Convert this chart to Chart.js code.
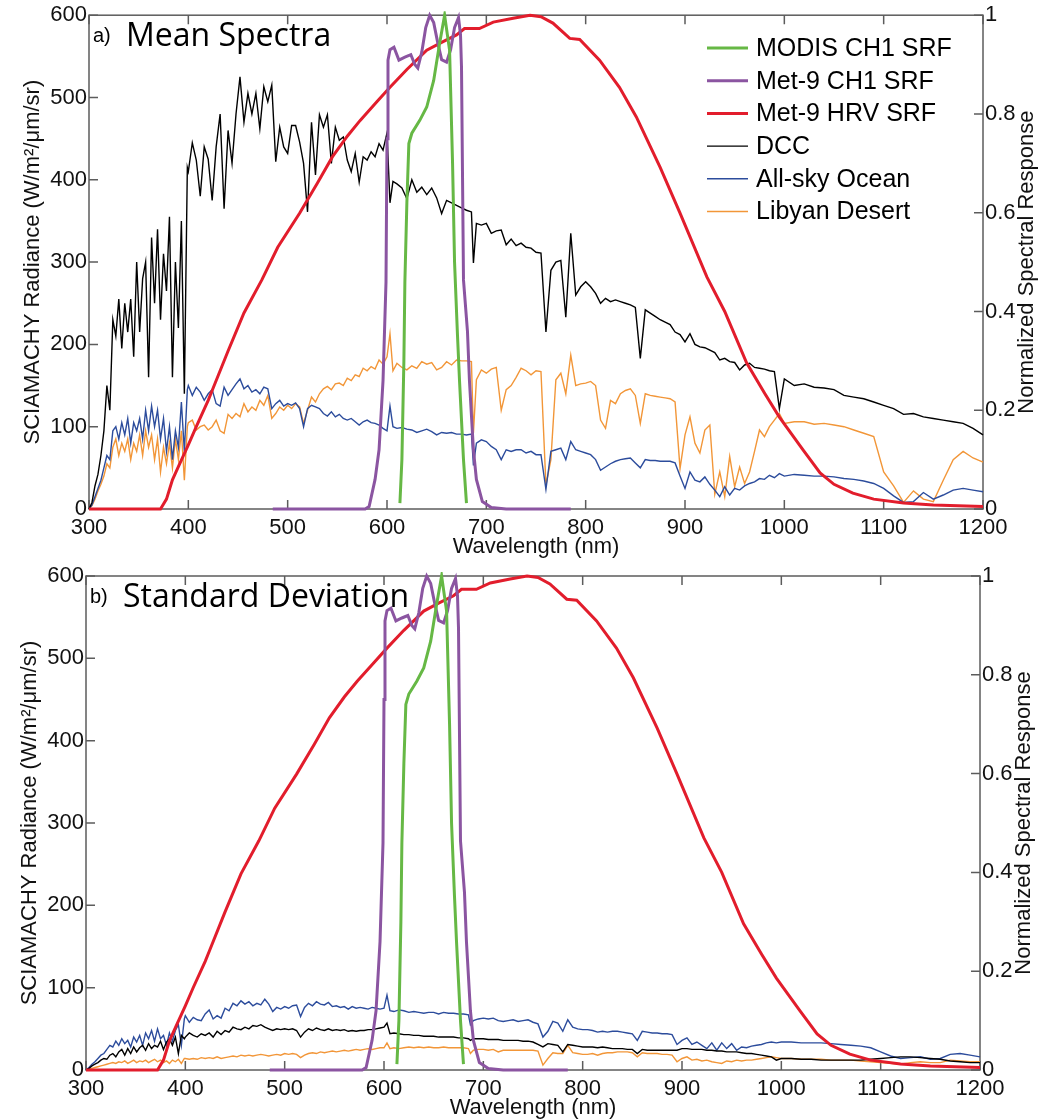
<!DOCTYPE html>
<html>
<head>
<meta charset="utf-8">
<script src="https://cdn.jsdelivr.net/npm/chart.js@4.4.1/dist/chart.umd.min.js"></script>
<style>
    html, body { margin: 0; padding: 0; background: #fff; }
    #wrap { position: relative; width: 1042px; height: 1120px; }
    canvas { position: absolute; left: 0; }
    #chartA { top: 0; }
    #chartB { top: 560px; }
</style>
</head>
<body>
<div id="wrap">
    <canvas id="chartA" width="1042" height="560"></canvas>
    <canvas id="chartB" width="1042" height="560"></canvas>
</div>
<script>
// Grade de comprimentos de onda dos espectros SCIAMACHY (nm)
const specWl = [
    300, 303, 306, 309, 312, 315, 318, 321, 324, 327, 330, 333, 336, 339, 342, 345, 348, 351, 354, 357, 360, 363, 366, 369, 372, 375, 378, 381, 384, 387, 390, 393, 396, 399,
    400, 404, 408, 412, 416, 420, 424, 428, 432, 436, 440, 444, 448, 452, 456, 460, 464, 468, 472, 476, 480, 484, 488, 492, 496, 500, 504, 508, 512, 516, 520, 524, 528, 532, 536, 540, 544, 548, 552, 556, 560, 564, 568, 572, 576, 580, 584, 588, 592, 596, 600,
    603, 606, 610, 615, 620, 625, 630, 635, 640, 645, 650, 655, 660, 665, 670, 675, 680, 685, 687,
    690, 695, 700, 705, 710, 715, 720, 725, 730, 735, 740, 745, 750, 755, 760, 765, 770, 775, 780, 785, 790, 795, 800, 805, 810, 815, 820, 825, 830, 835, 840, 845, 850, 855, 860, 865, 870, 875, 880, 885, 890, 895, 900, 905, 910, 915, 920, 925, 930, 935, 940, 945, 950, 955, 960, 965, 970, 975, 980, 985, 990, 995, 1000,
    1010, 1020, 1030, 1040, 1050, 1060, 1070, 1080, 1090, 1100, 1110, 1120, 1130, 1140, 1150, 1160, 1170, 1180, 1190, 1200
];

// a) espectros medios (W/m2/um/sr)
const dccMean = [
    0, 8, 28, 42, 65, 95, 150, 120, 230, 210, 255, 195, 250, 215, 255, 185, 300, 215, 280, 300, 160, 330, 250, 340, 230, 310, 265, 355, 160, 300, 220, 350, 140, 415,
    410, 445, 424, 380, 440, 425, 375, 440, 480, 365, 460, 420, 480, 525, 470, 505, 480, 505, 462, 513, 495, 515, 422, 464, 440, 432, 466, 466, 446, 420, 361, 470, 406, 479, 464, 479, 420, 464, 448, 452, 424, 410, 432, 397, 428, 424, 434, 428, 444, 436, 457,
    372, 398, 395, 390, 377, 400, 385, 391, 382, 390, 378, 359, 375, 372, 369, 366, 363, 361, 299,
    347, 345, 347, 335, 338, 339, 321, 328, 320, 323, 318, 317, 312, 311, 215, 290, 300, 302, 233, 335, 260, 270, 276, 270, 262, 250, 256, 252, 254, 252, 250, 248, 245, 183, 242, 238, 234, 230, 227, 224, 215, 212, 203, 213, 200, 197, 196, 193, 190, 181, 183, 179, 178, 169, 175, 177, 172, 171, 170, 168, 167, 122, 158,
    150, 152, 148, 147, 145, 138, 136, 134, 130, 126, 122, 115, 116, 112, 110, 108, 106, 104, 98, 90
];
const oceanMean = [
    0, 5, 15, 25, 35, 50, 65, 60, 95, 100, 85, 105, 90, 110, 80, 105, 95, 110, 85, 120, 95, 125, 100, 120, 85, 110, 70, 100, 60, 95, 75, 130, 70, 145,
    150, 138, 148, 142, 132, 140, 145, 128, 125, 148, 138, 145, 152, 158, 146, 150, 142, 145, 140, 148, 146, 122, 128, 132, 125, 128, 126, 129, 122, 100, 122, 126, 124, 122, 116, 113, 118, 112, 115, 110, 108, 110, 106, 102, 106, 108, 105, 104, 102, 98, 95,
    125, 100, 98, 99, 97, 96, 93, 95, 97, 94, 90, 93, 92, 93, 91, 91, 90, 91, 53,
    80, 84, 82, 76, 72, 60, 72, 70, 72, 72, 68, 70, 66, 66, 24, 70, 72, 74, 60, 82, 72, 70, 68, 66, 60, 47, 51, 55, 58, 60, 61, 62, 56, 50, 60, 59, 59, 58, 58, 58, 56, 40, 25, 45, 35, 33, 39, 30, 23, 15, 27, 17, 25, 23, 28, 31, 33, 37, 36, 41, 38, 43, 40,
    42, 41, 40, 40, 39, 37, 36, 34, 31, 25, 16, 8, 9, 20, 12, 17, 23, 25, 23, 21
];
const desertMean = [
    0, 4, 12, 22, 30, 40, 55, 50, 75, 85, 65, 80, 70, 85, 60, 80, 70, 90, 65, 95, 75, 90, 60, 85, 45, 75, 55, 80, 50, 85, 60, 95, 35, 100,
    105, 108, 96, 100, 102, 96, 100, 108, 95, 92, 115, 110, 116, 112, 128, 118, 124, 120, 132, 126, 138, 110, 116, 124, 120, 126, 122, 128, 124, 104, 120, 136, 130, 140, 146, 149, 145, 152, 153, 150, 159, 156, 163, 161, 171, 168, 173, 170, 181, 176, 185,
    213, 168, 177, 172, 169, 174, 171, 179, 176, 178, 169, 172, 179, 175, 181, 180, 180, 179, 92,
    157, 169, 165, 170, 172, 120, 145, 150, 160, 171, 168, 163, 168, 167, 29, 60, 157, 165, 140, 187, 150, 152, 153, 155, 150, 108, 98, 132, 128, 140, 144, 146, 138, 104, 140, 138, 137, 136, 135, 134, 130, 49, 90, 112, 80, 68, 96, 102, 18, 45, 15, 64, 27, 51, 31, 45, 70, 96, 88, 100, 108, 116, 104,
    106, 106, 103, 104, 102, 100, 96, 92, 88, 45, 28, 8, 22, 12, 9, 35, 60, 70, 62, 57
];

// b) desvio padrao
const dccStd = [
    0, 2, 5, 7, 9, 12, 14, 13, 18, 20, 16, 22, 25, 18, 26, 20, 28, 22, 27, 30, 24, 32, 26, 30, 28, 35, 25, 34, 38, 30, 40, 20, 42, 38,
    40, 45, 42, 40, 44, 42, 45, 40, 47, 43, 48, 46, 52, 50, 49, 52, 50, 54, 53, 55, 52, 50, 48, 50, 49, 50, 49, 50, 48, 40, 46, 50, 48, 51, 49, 48, 50, 48, 49, 48, 49, 47, 48, 47, 48, 48, 49, 49, 50, 51, 52,
    57, 44, 45, 44, 43, 43, 42, 42, 41, 41, 41, 40, 40, 40, 40, 39, 39, 38, 36,
    38, 38, 38, 37, 37, 37, 36, 36, 36, 36, 35, 35, 34, 31, 28, 32, 31, 30, 22, 31, 30, 29, 28, 28, 28, 27, 28, 27, 26, 26, 26, 25, 25, 20, 25, 24, 24, 24, 24, 24, 24, 24, 26, 26, 25, 25, 25, 24, 24, 23, 23, 22, 22, 22, 21, 20, 20, 19, 18, 17, 16, 12, 14,
    14, 13, 13, 12, 12, 12, 12, 12, 13, 14, 15, 16, 16, 15, 14, 13, 11, 10, 9, 9
];
const oceanStd = [
    0, 3, 7, 10, 14, 18, 20, 25, 30, 28, 35, 30, 38, 32, 36, 28, 40, 34, 42, 30, 45, 38, 48, 35, 50, 38, 42, 30, 45, 35, 48, 55, 30, 62,
    66, 58, 64, 61, 60, 68, 73, 62, 66, 63, 75, 72, 81, 78, 84, 80, 83, 78, 81, 79, 86, 80, 71, 76, 74, 77, 75, 78, 79, 65, 76, 81, 78, 83, 80, 79, 82, 77, 78, 76, 77, 74, 77, 75, 76, 75, 74, 76, 75, 74, 75,
    91, 72, 71, 73, 72, 70, 71, 70, 69, 70, 70, 68, 70, 69, 69, 68, 68, 67, 55,
    60, 62, 63, 62, 63, 60, 59, 60, 61, 59, 60, 61, 58, 56, 40, 47, 59, 57, 47, 61, 52, 50, 49, 49, 48, 46, 47, 46, 47, 47, 46, 45, 44, 36, 47, 46, 45, 45, 44, 44, 43, 31, 36, 39, 31, 34, 30, 26, 33, 24, 33, 26, 32, 24, 28, 27, 29, 30, 31, 33, 34, 33, 34,
    34, 33, 33, 33, 32, 31, 30, 29, 27, 22, 17, 14, 15, 16, 13, 14, 19, 20, 18, 16
];
const desertStd = [
    0, 1, 2, 3, 4, 5, 6, 7, 8, 9, 8, 10, 9, 11, 8, 10, 12, 9, 11, 10, 12, 9, 11, 13, 10, 12, 9, 11, 8, 12, 10, 13, 8, 14,
    14, 13, 14, 13, 15, 14, 15, 14, 16, 14, 15, 16, 17, 16, 18, 17, 18, 17, 18, 19, 18, 17, 18, 19, 18, 20, 19, 20, 19, 15, 18, 20, 21, 20, 22, 21, 22, 23, 22, 23, 24, 23, 24, 25, 24, 25, 26, 25, 26, 27, 27,
    33, 26, 27, 26, 27, 28, 27, 28, 27, 28, 27, 27, 28, 27, 27, 27, 27, 26, 20,
    24, 25, 25, 24, 25, 22, 24, 24, 24, 24, 24, 24, 24, 23, 6, 14, 21, 20, 20, 30, 21, 20, 19, 19, 20, 18, 20, 21, 21, 22, 22, 22, 21, 16, 21, 20, 20, 20, 19, 19, 18, 10, 14, 16, 12, 13, 11, 12, 10, 9, 8, 11, 10, 12, 11, 12, 12, 13, 14, 15, 16, 15, 14,
    14, 13, 13, 13, 12, 12, 12, 11, 10, 9, 8, 7, 9, 10, 9, 9, 12, 11, 10, 10
];

// Funcoes de resposta espectral normalizadas (eixo da direita)
const modisWl  = [613, 615, 617, 618, 620, 622, 625, 633, 640, 647, 653, 658, 663, 666, 668, 671, 673, 677, 680];
const modisSrf = [0.012, 0.1, 0.3, 0.46, 0.62, 0.74, 0.761, 0.787, 0.814, 0.868, 0.943, 1.0, 0.929, 0.7, 0.5, 0.35, 0.26, 0.1, 0.012];

const ch1Wl  = [485, 578, 582, 588, 592, 596, 599, 600, 601, 603, 607, 612, 618, 624, 628, 631, 635, 639, 643, 647, 651, 655, 660, 664, 668, 672, 674, 675, 677, 681, 683, 687, 690, 696, 705, 720, 785];
const ch1Srf = [0, 0, 0.005, 0.06, 0.12, 0.26, 0.46, 0.75, 0.909, 0.93, 0.935, 0.909, 0.915, 0.92, 0.9, 0.893, 0.925, 0.975, 1.0, 0.985, 0.945, 0.91, 0.905, 0.93, 0.975, 0.995, 0.96, 0.895, 0.464, 0.36, 0.26, 0.12, 0.06, 0.015, 0.003, 0, 0];

const hrvWl  = [300, 372, 378, 384, 390, 400, 408, 420, 424, 440, 456, 474, 490, 512, 530, 545, 560, 573, 590, 603, 620, 640, 655, 670, 678, 693, 707, 727, 744, 755, 767, 784, 794, 814, 834, 851, 875, 895, 922, 940, 962, 980, 995, 1019, 1036, 1050, 1069, 1090, 1120, 1150, 1200];
const hrvSrf = [0, 0, 0.02, 0.059, 0.086, 0.13, 0.167, 0.22, 0.24, 0.32, 0.397, 0.464, 0.53, 0.599, 0.66, 0.713, 0.755, 0.787, 0.825, 0.854, 0.89, 0.929, 0.945, 0.96, 0.973, 0.973, 0.986, 0.994, 1.0, 0.997, 0.984, 0.953, 0.951, 0.909, 0.854, 0.794, 0.692, 0.599, 0.47, 0.4, 0.296, 0.235, 0.186, 0.119, 0.073, 0.05, 0.032, 0.02, 0.012, 0.008, 0.005];

const labels = ['MODIS CH1 SRF', 'Met-9 CH1 SRF', 'Met-9 HRV SRF', 'DCC', 'All-sky Ocean', 'Libyan Desert'];
const colors = ['#66b845', '#8b55a1', '#e21d2c', '#000000', '#2c4c9c', '#f29638'];

const FONT = "'Liberation Sans', Arial, sans-serif";

function pts(xs, ys) {
    return xs.map((x, i) => ({ x: x, y: ys[i] }));
}

// desenha moldura, ticks para dentro, titulos e legenda
const framePlugin = {
    id: 'frame',
    beforeDatasetsDraw(chart) {
        const { ctx, chartArea: a, scales } = chart;
        const len = 9;
        ctx.save();
        ctx.strokeStyle = '#5c5c5c';
        ctx.lineWidth = 1.5;
        ctx.strokeRect(a.left, a.top, a.right - a.left, a.bottom - a.top);
        ctx.beginPath();
        scales.x.ticks.forEach(t => {
            const px = scales.x.getPixelForValue(t.value);
            ctx.moveTo(px, a.bottom); ctx.lineTo(px, a.bottom - len);
            ctx.moveTo(px, a.top); ctx.lineTo(px, a.top + len);
        });
        scales.y.ticks.forEach(t => {
            const py = scales.y.getPixelForValue(t.value);
            ctx.moveTo(a.left, py); ctx.lineTo(a.left + len, py);
        });
        scales.y1.ticks.forEach(t => {
            const py = scales.y1.getPixelForValue(t.value);
            ctx.moveTo(a.right, py); ctx.lineTo(a.right - len, py);
        });
        ctx.stroke();
        ctx.restore();
    },
    afterDraw(chart, args, opts) {
        const { ctx, chartArea: a } = chart;
        const midY = (a.top + a.bottom) / 2;
        ctx.save();
        ctx.fillStyle = '#111';
        ctx.textAlign = 'center';
        ctx.textBaseline = 'middle';
        ctx.font = '22px ' + FONT;

        ctx.save();
        ctx.translate(a.left - 56, midY);
        ctx.rotate(-Math.PI / 2);
        ctx.fillText('SCIAMACHY Radiance (W/m\u00b2/\u03bcm/sr)', 0, 0);
        ctx.restore();

        ctx.save();
        ctx.translate(a.right + 44, midY);
        ctx.rotate(-Math.PI / 2);
        ctx.fillText('Normalized Spectral Response', 0, 0);
        ctx.restore();

        ctx.textBaseline = 'alphabetic';
        ctx.fillText('Wavelength (nm)', (a.left + a.right) / 2, a.bottom + 44);

        // rotulo do painel
        ctx.textAlign = 'left';
        ctx.fillStyle = '#000';
        ctx.font = '20px ' + FONT;
        ctx.fillText(opts.tag, a.left + 4, a.top + 27);
        ctx.font = "32px 'Open Sans', sans-serif";
        ctx.fillText(opts.title, a.left + 37, a.top + 31);

        if (opts.legend) {
            ctx.font = '25px ' + FONT;
            ctx.textBaseline = 'middle';
            chart.data.datasets.forEach((ds, i) => {
                const y = 48 + i * 32.7;
                ctx.strokeStyle = ds.borderColor;
                ctx.lineWidth = ds.borderWidth;
                ctx.beginPath();
                ctx.moveTo(707, y);
                ctx.lineTo(748, y);
                ctx.stroke();
                ctx.fillText(ds.label, 756, y + 1);
            });
        }
        ctx.restore();
    }
};

function makePanel(canvasId, dcc, ocean, desert, box, panelOpts) {
    const common = { pointRadius: 0, tension: 0, fill: false, clip: 4 };
    const datasets = [
        { ...common, label: labels[0], data: pts(modisWl, modisSrf), yAxisID: 'y1', borderColor: colors[0], borderWidth: 3 },
        { ...common, label: labels[1], data: pts(ch1Wl, ch1Srf), yAxisID: 'y1', borderColor: colors[1], borderWidth: 3 },
        { ...common, label: labels[2], data: pts(hrvWl, hrvSrf), yAxisID: 'y1', borderColor: colors[2], borderWidth: 3 },
        { ...common, label: labels[3], data: pts(specWl, dcc), yAxisID: 'y', borderColor: colors[3], borderWidth: 1.4 },
        { ...common, label: labels[4], data: pts(specWl, ocean), yAxisID: 'y', borderColor: colors[4], borderWidth: 1.4 },
        { ...common, label: labels[5], data: pts(specWl, desert), yAxisID: 'y', borderColor: colors[5], borderWidth: 1.4 }
    ];
    const tickFont = { family: FONT, size: 22 };
    const noGrid = { display: false, drawTicks: false, tickLength: 0 };
    return new Chart(document.getElementById(canvasId), {
        type: 'line',
        data: { datasets: datasets },
        options: {
            responsive: false,
            animation: false,
            devicePixelRatio: 1,
            layout: { padding: { top: box.top, left: 0, right: 0, bottom: 0 } },
            plugins: { legend: { display: false }, tooltip: { enabled: false }, frame: panelOpts },
            scales: {
                x: {
                    type: 'linear', min: 300, max: 1200,
                    grid: noGrid, border: { display: false },
                    ticks: { stepSize: 100, font: tickFont, color: '#111', padding: 6, maxRotation: 0, callback: v => String(v) },
                    afterFit: s => { s.height = box.bottomH; }
                },
                y: {
                    position: 'left', min: 0, max: 600,
                    grid: noGrid, border: { display: false },
                    ticks: { stepSize: 100, font: tickFont, color: '#111', padding: 2, callback: v => String(v) },
                    afterFit: s => { s.width = box.left; }
                },
                y1: {
                    position: 'right', min: 0, max: 1,
                    grid: noGrid, border: { display: false },
                    ticks: {
                        stepSize: 0.2, font: tickFont, color: '#111', padding: 2,
                        callback: v => (v === 0 || v === 1) ? String(v) : v.toFixed(1)
                    },
                    afterFit: s => { s.width = box.right; }
                }
            }
        },
        plugins: [framePlugin]
    });
}

makePanel('chartA', dccMean, oceanMean, desertMean,
    { top: 15, left: 89, right: 59, bottomH: 51 },
    { tag: 'a)', title: 'Mean Spectra', legend: true });
makePanel('chartB', dccStd, oceanStd, desertStd,
    { top: 16, left: 86, right: 62, bottomH: 50 },
    { tag: 'b)', title: 'Standard Deviation', legend: false });
</script>
</body>
</html>
